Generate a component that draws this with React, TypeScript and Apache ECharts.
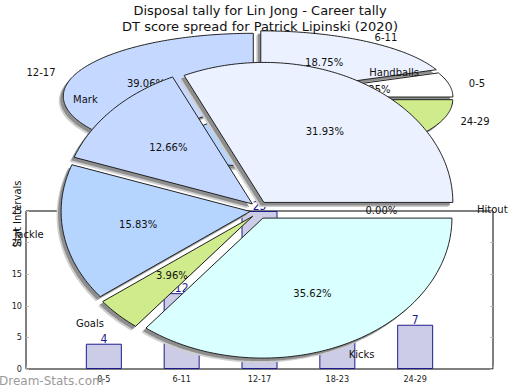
import React, { useEffect, useRef } from 'react';
import * as echarts from 'echarts';

// ---------- data ----------
const titleLines = [
  'Disposal tally for Lin Jong - Career tally',
  'DT score spread for Patrick Lipinski (2020)',
];
const statNames = ['Handballs', 'Mark', 'Tackle', 'Goals', 'Kicks', 'Hitout'];
const statPercents = [31.93, 12.66, 15.83, 3.96, 35.62, 0.0];
const statColors = ['#EBF1FF', '#C5D8FF', '#B5D5FF', '#CFEB8C', '#D9FFFF', '#FFFFFF'];

const intervalCategories = ['0-5', '6-11', '12-17', '18-23', '24-29'];
const intervalCounts = [4, 12, 25, 16, 7];
const intervalColors = ['#FFFFFF', '#EBF1FF', '#C5D8FF', '#B5D5FF', '#CFEB8C'];

const yMin = 0;
const yMax = 25;
const yStep = 5;
const yAxisTitle = 'Stat Intervals';
const watermark = 'Dream-Stats.com';

// ---------- styling ----------
const SANS = '"DejaVu Sans", sans-serif';
const NARROW = '"Liberation Sans Narrow", "DejaVu Sans Condensed", "DejaVu Sans", sans-serif';
const LABEL_FONT = `10px ${SANS}`;

let measureCtx: CanvasRenderingContext2D | null = null;
function textWidth(t: string, font: string) {
  if (!measureCtx) measureCtx = document.createElement('canvas').getContext('2d');
  if (!measureCtx) return t.length * 6;
  measureCtx.font = font;
  return measureCtx.measureText(t).width;
}

function anchor(a: number) {
  const P = Math.PI;
  let dx = 0;
  let dy = 0;
  if (a >= 7 * P / 4 || a <= P / 4) dx = 0;
  if (a >= P / 4 && a <= 3 * P / 4) dx = (a - P / 4) * 2 / P;
  if (a >= 3 * P / 4 && a <= 5 * P / 4) dx = 1;
  if (a >= 5 * P / 4 && a <= 7 * P / 4) dx = 1 - (a - 5 * P / 4) * 2 / P;
  if (a >= 7 * P / 4) dy = ((a - P) - 3 * P / 4) * 2 / P;
  if (a <= P / 4) dy = 0.5 + a * 2 / P;
  if (a >= P / 4 && a <= 3 * P / 4) dy = 1;
  if (a >= 3 * P / 4 && a <= 5 * P / 4) dy = 1 - (a - 3 * P / 4) * 2 / P;
  if (a >= 5 * P / 4 && a <= 7 * P / 4) dy = 0;
  return { dx, dy };
}

type Geom = { cx: number; cy: number; rx: number; ry: number; e: number; lx: number; ly: number; f: number };

function pieSeries(values: number[], names: string[], colors: string[], g: Geom, z: number) {
  const total = values.reduce((s, v) => s + v, 0);
  return {
    type: 'custom',
    coordinateSystem: 'none',
    silent: true,
    z,
    data: values.map((v, i) => ({ value: v, name: names[i] })),
    renderItem: (params: any, api: any) => {
      const i = params.dataIndex;
      const v = api.value(0);
      let before = 0;
      for (let k = 0; k < i; k++) before += values[k];
      const a0 = (before / total) * Math.PI * 2;
      const a1 = ((before + v) / total) * Math.PI * 2;
      const mid = (a0 + a1) / 2;
      const cm = Math.cos(mid);
      const sm = Math.sin(mid);
      const ox = g.cx + g.e * cm;
      const oy = g.cy - g.e * sm;
      const children: any[] = [];
      if (a1 - a0 > 1e-6) {
        const pts: number[][] = [[ox, oy]];
        const n = Math.max(2, Math.ceil((a1 - a0) / (Math.PI / 180)));
        for (let k = 0; k <= n; k++) {
          const t = a0 + ((a1 - a0) * k) / n;
          pts.push([ox + g.rx * Math.cos(t), oy - g.ry * Math.sin(t)]);
        }
        children.push({
          type: 'polygon', z2: 0,
          shape: { points: pts.map((p) => [p[0] - 4.5, p[1] + 4.5]) },
          style: { fill: '#cfcfcf' },
        });
        children.push({
          type: 'polygon', z2: 1,
          shape: { points: pts.map((p) => [p[0] - 3, p[1] + 3]) },
          style: { fill: '#8e8e8e' },
        });
        children.push({
          type: 'polygon', z2: 10,
          shape: { points: pts },
          style: { fill: colors[i], stroke: '#222', lineWidth: 1 },
        });
      }
      const pct = ((v / total) * 100).toFixed(2) + '%';
      children.push({
        type: 'text', z2: 100,
        x: g.cx + (g.e + g.f * g.rx) * cm,
        y: g.cy - (g.e + g.f * g.ry) * sm,
        style: {
          text: pct, font: LABEL_FONT, fill: '#111',
          align: 'center', verticalAlign: 'middle', textAlign: 'center', textVerticalAlign: 'middle',
        },
      });
      let a = mid % (Math.PI * 2);
      if (a < 0) a += Math.PI * 2;
      const { dx, dy } = anchor(a);
      const name = names[i];
      const w = textWidth(name, LABEL_FONT);
      const h = 12;
      const xt = g.cx + g.lx * cm;
      const yt = g.cy - g.ly * sm;
      children.push({
        type: 'text', z2: 100,
        x: xt - dx * w,
        y: yt - dy * h,
        style: {
          text: name, font: LABEL_FONT, fill: '#111',
          align: 'left', verticalAlign: 'top', textAlign: 'left', textVerticalAlign: 'top',
        },
      });
      return { type: 'group', children };
    },
  };
}

export default function App() {
  const ref = useRef<HTMLDivElement>(null);
  useEffect(() => {
    if (!ref.current) return;
    const chart = echarts.init(ref.current, null, { renderer: 'svg' });
    const axisCats = ['', ...intervalCategories, ''];
    const barData: any[] = ['-', ...intervalCounts, '-'];

    const bgGeom: Geom = { cx: 258, cy: 98, rx: 190, ry: 63, e: 5, lx: 215, ly: 64, f: 0.6 };
    const fgGeom: Geom = { cx: 259, cy: 210, rx: 189, ry: 140, e: 9, lx: 218, ly: 155, f: 0.6 };

    chart.setOption({
      animation: false,
      backgroundColor: '#ffffff',
      grid: {
        left: 26, right: 27, top: 211, bottom: 21,
        show: true, borderColor: '#000', borderWidth: 1, backgroundColor: 'transparent',
      },
      xAxis: {
        type: 'category',
        data: axisCats,
        boundaryGap: false,
        axisLine: { show: false },
        axisTick: { show: true, inside: true, length: 3, interval: 0, lineStyle: { color: '#aaaaaa' } },
        axisLabel: { interval: 0, fontSize: 9, fontFamily: NARROW, color: '#222', margin: 5 },
        splitLine: { show: false },
      },
      yAxis: [
        {
          type: 'value', min: yMin, max: yMax, interval: yStep,
          axisLine: { show: false },
          axisTick: { show: true, inside: true, length: 3, lineStyle: { color: '#bbbbbb' } },
          axisLabel: { fontSize: 9, fontFamily: NARROW, color: '#222', margin: 4 },
          splitLine: { show: false },
        },
        {
          type: 'value', min: yMin, max: yMax, interval: yStep, position: 'right',
          axisLine: { show: false },
          axisTick: { show: true, inside: true, length: 3, lineStyle: { color: '#bbbbbb' } },
          axisLabel: { show: false },
          splitLine: { show: false },
        },
      ],
      series: [
        pieSeries(intervalCounts, intervalCategories, intervalColors, bgGeom, 1),
        {
          type: 'bar',
          data: barData,
          barWidth: 36,
          z: 2,
          itemStyle: { color: '#CCCCE6', borderColor: '#1C1C8C', borderWidth: 1 },
          label: {
            show: true, position: 'top', distance: -1,
            color: '#1C1C8C', fontSize: 12, fontFamily: NARROW,
          },
        },
        pieSeries(statPercents, statNames, statColors, fgGeom, 5),
      ],
      graphic: [
        {
          type: 'text', x: 260, y: 10, z: 100, silent: true,
          style: {
            text: titleLines[0], font: `13px ${SANS}`, fill: '#111',
            align: 'center', verticalAlign: 'middle', textAlign: 'center', textVerticalAlign: 'middle',
          },
        },
        {
          type: 'text', x: 260, y: 26, z: 100, silent: true,
          style: {
            text: titleLines[1], font: `13px ${SANS}`, fill: '#111',
            align: 'center', verticalAlign: 'middle', textAlign: 'center', textVerticalAlign: 'middle',
          },
        },
        {
          type: 'text', x: 17, y: 214, z: 100, silent: true, rotation: Math.PI / 2,
          style: {
            text: yAxisTitle, font: `10px ${SANS}`, fill: '#111',
            align: 'center', verticalAlign: 'middle', textAlign: 'center', textVerticalAlign: 'middle',
          },
        },
        {
          type: 'text', x: -1, y: 381, z: 100, silent: true,
          style: {
            text: watermark, font: `12px ${SANS}`, fill: '#9a9a9a',
            align: 'left', verticalAlign: 'middle', textAlign: 'left', textVerticalAlign: 'middle',
          },
        },
      ],
    });
    return () => chart.dispose();
  }, []);
  return (
    <div
      ref={ref}
      style={{ position: 'fixed', left: 0, top: 0, width: 520, height: 390 }}
    />
  );
}
